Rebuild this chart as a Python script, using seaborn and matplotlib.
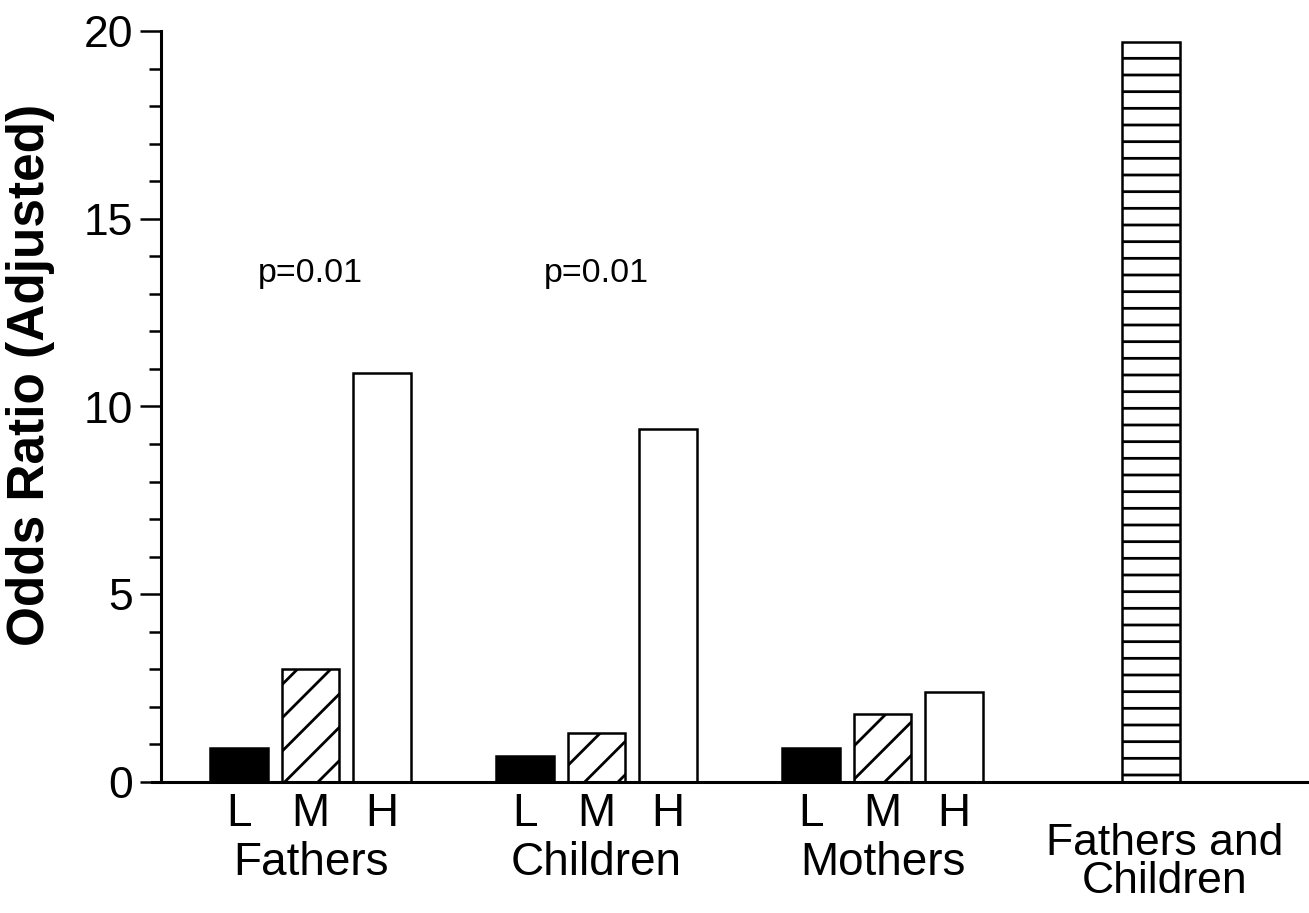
import numpy as np
import pandas as pd
import matplotlib
matplotlib.use("Agg")
import matplotlib.pyplot as plt
import matplotlib.transforms as mtransforms
from matplotlib.ticker import MultipleLocator
import seaborn as sns

# ---- data -------------------------------------------------------------
groups = ["Fathers", "Children", "Mothers"]
levels = ["L", "M", "H"]
fathers = [0.9, 3.0, 10.9]
children = [0.7, 1.3, 9.4]
mothers = [0.9, 1.8, 2.4]
combined_label = "Fathers and\nChildren"
combined_value = 19.7
p_texts = ["p=0.01", "p=0.01", ""]
y_ticks = [0, 5, 10, 15, 20]

# ---- layout -----------------------------------------------------------
GROUP_STEP = 4
COMBINED_POS = 12.75
BAR_WIDTH = 0.81

series = [fathers, children, mothers]
rows = []
for gi, vals in enumerate(series):
    for li, v in enumerate(vals):
        rows.append({"pos": gi * GROUP_STEP + li, "odds": v, "style": levels[li]})
rows.append({"pos": COMBINED_POS, "odds": combined_value, "style": "both"})
df = pd.DataFrame(rows).sort_values("pos").reset_index(drop=True)

sns.set_style("white")
plt.rcParams["font.family"] = ["Liberation Sans", "DejaVu Sans"]
plt.rcParams["hatch.linewidth"] = 2.0
plt.rcParams["hatch.color"] = "black"
plt.rcParams["text.color"] = "black"
plt.rcParams["axes.labelcolor"] = "black"
plt.rcParams["ytick.color"] = "black"
plt.rcParams["ytick.left"] = True

W, H = 1309, 913
fig = plt.figure(figsize=(W / 100, H / 100), dpi=100)
ax = fig.add_axes([152 / W, (H - 782) / H, (W - 152) / W, (782 - 31) / H])

sns.barplot(data=df, x="pos", y="odds", native_scale=True, width=BAR_WIDTH,
            color="white", edgecolor="black", linewidth=1.8,
            errorbar=None, ax=ax)

fills = {"L": ("black", ""), "M": ("white", "/"), "H": ("white", ""),
         "both": ("white", "-")}
for patch in ax.patches:
    xc = patch.get_x() + patch.get_width() / 2
    idx = int(np.argmin(np.abs(df["pos"].to_numpy() - xc)))
    face, hatch = fills[df.loc[idx, "style"]]
    patch.set_facecolor(face)
    patch.set_edgecolor("black")
    patch.set_hatch(hatch)
    patch.set_clip_on(False)

# axes limits and spines
ax.set_xlim(-1.217, 14.965)
ax.set_ylim(0, 20)
for side in ["top", "right"]:
    ax.spines[side].set_visible(False)
ax.spines["left"].set_position(("data", -1.09))
ax.spines["left"].set_bounds(0, 20)
for side in ["left", "bottom"]:
    ax.spines[side].set_linewidth(2.2)
    ax.spines[side].set_color("black")

ax.set_yticks(y_ticks)
ax.yaxis.set_minor_locator(MultipleLocator(1))
ax.tick_params(axis="y", which="both", left=True)
ax.tick_params(axis="y", which="major", direction="out", length=15, width=1.8,
               labelsize=32, pad=5, color="black", labelcolor="black")
ax.tick_params(axis="y", which="minor", direction="out", length=9, width=1.8,
               color="black")
ax.tick_params(axis="x", which="both", bottom=False, labelbottom=False)
ax.set_xlabel("")
ax.set_ylabel("Odds Ratio (Adjusted)", fontsize=37, fontweight="bold",
              color="black")
ax.yaxis.set_label_coords(-0.084, 0.542)

# category labels under the axis
trans = mtransforms.blended_transform_factory(ax.transData, fig.transFigure)


def fig_y(px):
    return 1 - px / H


for gi, g in enumerate(groups):
    for li, lv in enumerate(levels):
        ax.text(gi * GROUP_STEP + li, fig_y(826), lv, transform=trans,
                ha="center", va="baseline", fontsize=33)
    ax.text(gi * GROUP_STEP + 1, fig_y(875), g, transform=trans,
            ha="center", va="baseline", fontsize=33)
    if p_texts[gi]:
        ax.text(gi * GROUP_STEP + 1, 13.55, p_texts[gi], ha="center",
                va="center", fontsize=24.5)

ax.text(COMBINED_POS + 0.2, fig_y(893), combined_label, transform=trans,
        ha="center", va="baseline", fontsize=32, linespacing=0.9,
        multialignment="center")

fig.savefig("out.png", dpi=100)
